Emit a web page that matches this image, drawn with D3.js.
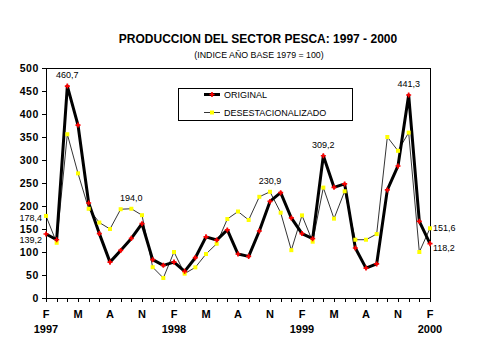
<!DOCTYPE html>
<html>
<head>
<meta charset="utf-8">
<script src="https://cdn.jsdelivr.net/npm/d3@7"></script>
<style>
  html, body { margin: 0; padding: 0; background: #fff; }
  svg text { font-family: "Liberation Sans", Arial, sans-serif; fill: #000; }
</style>
</head>
<body>
<div id="chart"></div>
<script>
// monthly index, Feb 1997 .. Feb 2000
const months = ['F97','M97','A97','M97','J97','J97','A97','S97','O97','N97','D97','E98',
  'F98','M98','A98','M98','J98','J98','A98','S98','O98','N98','D98','E99',
  'F99','M99','A99','M99','J99','J99','A99','S99','O99','N99','D99','E00','F00'];
const original = [139.2, 126.7, 460.7, 376, 206.6, 140, 78, 103.5, 129.6, 161.5, 83.3, 71,
  78, 58, 87.6, 133, 126, 148, 95.6, 90.5, 145.6, 210, 229, 174,
  140, 129, 309.2, 240.6, 248, 108.7, 65, 74, 235, 287, 441.3, 166.6, 118.2];
const desest = [178.4, 120, 356, 271, 194, 164, 150, 193, 194.0, 180, 67, 43.5,
  100, 53, 66.6, 95.6, 118, 171.7, 188, 169.6, 220, 230.9, 185.5, 104,
  179.6, 122.4, 240, 172.5, 232, 126.7, 126.7, 139, 350, 320, 359.5, 100, 151.6];
const monthTickLabels = ['F', 'M', 'A', 'N', 'F', 'M', 'A', 'N', 'F', 'M', 'A', 'N', 'F'];
const yearLabels = [{i: 0, t: '1997'}, {i: 12, t: '1998'}, {i: 24, t: '1999'}, {i: 36, t: '2000'}];
const yTicks = [0, 50, 100, 150, 200, 250, 300, 350, 400, 450, 500];
const seriesNames = ['ORIGINAL', 'DESESTACIONALIZADO'];
// value labels: which series, which month, text, where
const valueLabels = [
  {s: 0, i: 2, t: '460,7', pos: 'top'},
  {s: 1, i: 8, t: '194,0', pos: 'top'},
  {s: 1, i: 21, t: '230,9', pos: 'top'},
  {s: 0, i: 26, t: '309,2', pos: 'top'},
  {s: 0, i: 34, t: '441,3', pos: 'top'},
  {s: 1, i: 36, t: '151,6', pos: 'right'},
  {s: 0, i: 36, t: '118,2', pos: 'rightBelow'},
  {s: 1, i: 0, t: '178,4', pos: 'left'},
  {s: 0, i: 0, t: '139,2', pos: 'leftBelow'}
];

const W = 479, H = 359;
const margin = {top: 68, right: 49, bottom: 61, left: 46};
const series = [original, desest];

const svg = d3.select('#chart').append('svg')
    .attr('width', W).attr('height', H);

const x = d3.scaleLinear().domain([0, months.length - 1]).range([margin.left, W - margin.right]);
const y = d3.scaleLinear().domain([0, 500]).range([H - margin.bottom, margin.top]);

// title
svg.append('text').attr('x', 258).attr('y', 43).attr('text-anchor', 'middle')
    .style('font-size', '12px').style('font-weight', 'bold')
    .text('PRODUCCION DEL SECTOR PESCA: 1997 - 2000');
svg.append('text').attr('x', 259).attr('y', 57.5).attr('text-anchor', 'middle')
    .style('font-size', '8.8px')
    .text('(INDICE AÑO BASE 1979 = 100)');

// plot frame
svg.append('rect')
    .attr('x', x(0)).attr('y', y(500))
    .attr('width', x(36) - x(0)).attr('height', y(0) - y(500))
    .attr('fill', 'none').attr('stroke', '#000').attr('stroke-width', 1)
    .attr('shape-rendering', 'crispEdges');

// y axis
const yAxis = d3.axisLeft(y).tickValues(yTicks).tickSize(4).tickPadding(3);
const gy = svg.append('g').attr('transform', 'translate(' + x(0) + ',0)').call(yAxis);
gy.selectAll('text').style('font-size', '10.5px').style('font-weight', 'bold')
    .style('letter-spacing', '0.6px');
gy.selectAll('path, line').attr('stroke', '#000').attr('shape-rendering', 'crispEdges');

// x axis (one tick each month)
const xAxis = d3.axisBottom(x).tickValues(d3.range(months.length)).tickSize(4).tickFormat('');
const gx = svg.append('g').attr('transform', 'translate(0,' + y(0) + ')').call(xAxis);
gx.select('.domain').attr('stroke', '#000');
gx.selectAll('line').attr('stroke', '#000').attr('shape-rendering', 'crispEdges');

svg.selectAll('.mlab').data(monthTickLabels).enter().append('text')
    .attr('x', (d, i) => x(i * 3)).attr('y', 318)
    .attr('text-anchor', 'middle')
    .style('font-size', '11px').style('font-weight', 'bold')
    .text(d => d);
svg.selectAll('.ylab').data(yearLabels).enter().append('text')
    .attr('x', d => x(d.i)).attr('y', 333)
    .attr('text-anchor', 'middle')
    .style('font-size', '11px').style('font-weight', 'bold')
    .text(d => d.t);

const line = d3.line().x((d, i) => x(i)).y(d => y(d));

// desestacionalizado (thin)
svg.append('path').datum(desest)
    .attr('fill', 'none').attr('stroke', '#000').attr('stroke-width', 0.8)
    .attr('d', line);
// original (thick)
svg.append('path').datum(original)
    .attr('fill', 'none').attr('stroke', '#000').attr('stroke-width', 3)
    .attr('stroke-linejoin', 'round')
    .attr('d', line);

svg.selectAll('.ym').data(desest).enter().append('rect')
    .attr('x', (d, i) => x(i) - 2).attr('y', d => y(d) - 2)
    .attr('width', 4).attr('height', 4).attr('fill', '#ffff00');
svg.selectAll('.om').data(original).enter().append('path')
    .attr('transform', (d, i) => 'translate(' + x(i) + ',' + y(d) + ')')
    .attr('d', d3.symbol().type(d3.symbolCross).size(14))
    .attr('fill', '#ff0000');

// value labels
valueLabels.forEach(l => {
  const px = x(l.i), py = y(series[l.s][l.i]);
  const t = svg.append('text').style('font-size', '9px').text(l.t);
  if (l.pos === 'top') t.attr('x', px).attr('y', py - 8).attr('text-anchor', 'middle');
  else if (l.pos === 'right') t.attr('x', px + 3).attr('y', py + 3);
  else if (l.pos === 'rightBelow') t.attr('x', px + 3).attr('y', py + 7);
  else if (l.pos === 'left') t.attr('x', px - 4).attr('y', py + 5).attr('text-anchor', 'end');
  else t.attr('x', px - 4).attr('y', py + 9).attr('text-anchor', 'end');
});

// legend
const lg = svg.append('g');
lg.append('rect').attr('x', 178).attr('y', 88).attr('width', 174).attr('height', 32)
    .attr('fill', '#fff').attr('stroke', '#000').attr('stroke-width', 1)
    .attr('shape-rendering', 'crispEdges');
seriesNames.forEach((n, k) => {
  const ly = 94.5 + k * 18;
  lg.append('line').attr('x1', 204).attr('x2', 220).attr('y1', ly).attr('y2', ly)
      .attr('stroke', '#000').attr('stroke-width', k === 0 ? 3 : 0.8);
  if (k === 0) {
    lg.append('path').attr('transform', 'translate(212,' + ly + ')')
        .attr('d', d3.symbol().type(d3.symbolCross).size(14)).attr('fill', '#ff0000');
  } else {
    lg.append('rect').attr('x', 210).attr('y', ly - 2).attr('width', 4).attr('height', 4)
        .attr('fill', '#ffff00');
  }
  lg.append('text').attr('x', 224).attr('y', ly + 3.5)
      .style('font-size', '9px').text(n);
});
</script>
</body>
</html>
